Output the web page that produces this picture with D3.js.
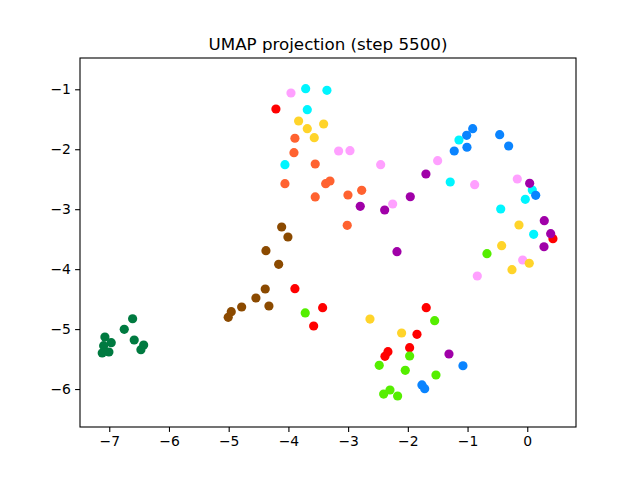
<!DOCTYPE html>
<html>
<head>
<meta charset="utf-8">
<script src="https://cdn.jsdelivr.net/npm/d3@7"></script>
<style>
  html, body { margin: 0; padding: 0; background: #fff; }
  svg { display: block; }
  text { font-family: "DejaVu Sans", sans-serif; fill: #000; }
</style>
</head>
<body>
<script>
// ---- data ----
const title = "UMAP projection (step 5500)";
const xTicks = [-7, -6, -5, -4, -3, -2, -1, 0];
const yTicks = [-6, -5, -4, -3, -2, -1];
const xDomain = [-7.49, 0.816];
const yDomain = [-6.633, -0.478];

const categories = ["red", "cyan", "pink", "yellow", "orange", "blue", "purple", "brown", "darkgreen", "lime"];
const colors = ["#ff0000", "#00f5ff", "#ffa0ff", "#ffd42a", "#ff6230", "#0a84ff", "#a000a8", "#8b4a00", "#007a40", "#55ee00"];

const redX = [-4.209, -3.891, -3.427, -3.577, -1.692, -1.847, -1.970, -2.333, -2.383, 0.430];
const redY = [-1.329, -4.326, -4.643, -4.948, -4.643, -5.087, -5.310, -5.377, -5.454, -3.492];
const cyanX = [-3.711, -3.355, -3.684, -4.058, -1.144, -1.290, 0.084, -0.033, -0.445, 0.107];
const cyanY = [-0.990, -1.017, -1.340, -2.258, -1.846, -2.546, -2.680, -2.835, -2.997, -3.419];
const pinkX = [-3.957, -3.159, -2.969, -2.455, -2.254, -1.501, -0.881, -0.167, -0.077, -0.837];
const pinkY = [-1.062, -2.029, -2.024, -2.258, -2.913, -2.191, -2.591, -2.496, -3.847, -4.114];
const yellowX = [-3.829, -3.684, -3.410, -3.567, -2.634, -2.104, -0.139, -0.429, 0.033, -0.256];
const yellowY = [-1.529, -1.657, -1.579, -1.807, -4.832, -5.065, -3.264, -3.609, -3.902, -4.009];
const orangeX = [-3.891, -3.907, -3.551, -4.058, -3.376, -3.304, -2.773, -3.551, -3.003, -3.015];
const orangeY = [-1.817, -2.058, -2.246, -2.575, -2.575, -2.530, -2.685, -2.796, -2.763, -3.269];
const blueX = [-0.914, -1.015, -1.010, -1.223, -0.462, -0.312, 0.141, -1.077, -1.764, -1.718];
const blueY = [-1.657, -1.767, -1.967, -2.029, -1.757, -1.946, -2.768, -5.611, -5.932, -5.994];
const purpleX = [-2.797, -2.388, -1.959, -2.182, -1.697, 0.040, 0.285, 0.392, 0.280, -1.311];
const purpleY = [-2.952, -3.013, -2.792, -3.709, -2.413, -2.568, -3.192, -3.409, -3.626, -5.415];
const brownX = [-4.113, -4.008, -4.376, -4.163, -4.388, -4.544, -4.326, -4.783, -4.957, -5.008];
const brownY = [-3.297, -3.464, -3.692, -3.919, -4.331, -4.481, -4.615, -4.631, -4.710, -4.803];
const darkgreenX = [-6.609, -6.749, -6.582, -7.073, -6.967, -7.094, -7.006, -7.118, -6.424, -6.470];
const darkgreenY = [-4.827, -5.003, -5.182, -5.132, -5.227, -5.277, -5.382, -5.399, -5.265, -5.344];
const limeX = [-3.718, -1.551, -1.970, -2.479, -2.043, -1.529, -2.299, -2.405, -2.171, -0.675];
const limeY = [-4.731, -4.860, -5.449, -5.604, -5.687, -5.766, -6.016, -6.083, -6.116, -3.742];

const seriesX = [redX, cyanX, pinkX, yellowX, orangeX, blueX, purpleX, brownX, darkgreenX, limeX];
const seriesY = [redY, cyanY, pinkY, yellowY, orangeY, blueY, purpleY, brownY, darkgreenY, limeY];

// ---- layout ----
const W = 640, H = 480;
const m = { left: 80, right: 576, top: 58, bottom: 427 };

const svg = d3.select("body").append("svg").attr("width", W).attr("height", H);

const x = d3.scaleLinear().domain(xDomain).range([m.left, m.right]);
const y = d3.scaleLinear().domain(yDomain).range([m.bottom, m.top]);

const points = [];
categories.forEach((c, i) => {
  seriesX[i].forEach((vx, j) => points.push({ x: vx, y: seriesY[i][j], color: colors[i] }));
});

// points
svg.append("g")
  .selectAll("circle")
  .data(points)
  .join("circle")
  .attr("cx", d => x(d.x))
  .attr("cy", d => y(d.y))
  .attr("r", 4.6)
  .attr("fill", d => d.color);

// axes
const fmt = d => d3.format("d")(d).replace("-", "\u2212");
const xAxis = svg.append("g")
  .attr("transform", `translate(0,${m.bottom})`)
  .call(d3.axisBottom(x).tickValues(xTicks).tickFormat(fmt).tickSize(4.9).tickPadding(4.2).tickSizeOuter(0));
const yAxis = svg.append("g")
  .attr("transform", `translate(${m.left},0)`)
  .call(d3.axisLeft(y).tickValues(yTicks).tickFormat(fmt).tickSize(4.9).tickPadding(4.2).tickSizeOuter(0));

[xAxis, yAxis].forEach(g => {
  g.select(".domain").remove();
  g.selectAll(".tick line").attr("stroke", "#000").attr("stroke-width", 1.1);
  g.selectAll(".tick text").attr("font-size", 13.9).attr("font-family", "DejaVu Sans, sans-serif").attr("fill", "#000");
});

// frame
svg.append("rect")
  .attr("x", m.left).attr("y", m.top)
  .attr("width", m.right - m.left).attr("height", m.bottom - m.top)
  .attr("fill", "none").attr("stroke", "#000").attr("stroke-width", 1.1);

// title
svg.append("text")
  .attr("x", (m.left + m.right) / 2)
  .attr("y", 50)
  .attr("text-anchor", "middle")
  .attr("font-size", 16.7)
  .text(title);
</script>
</body>
</html>
